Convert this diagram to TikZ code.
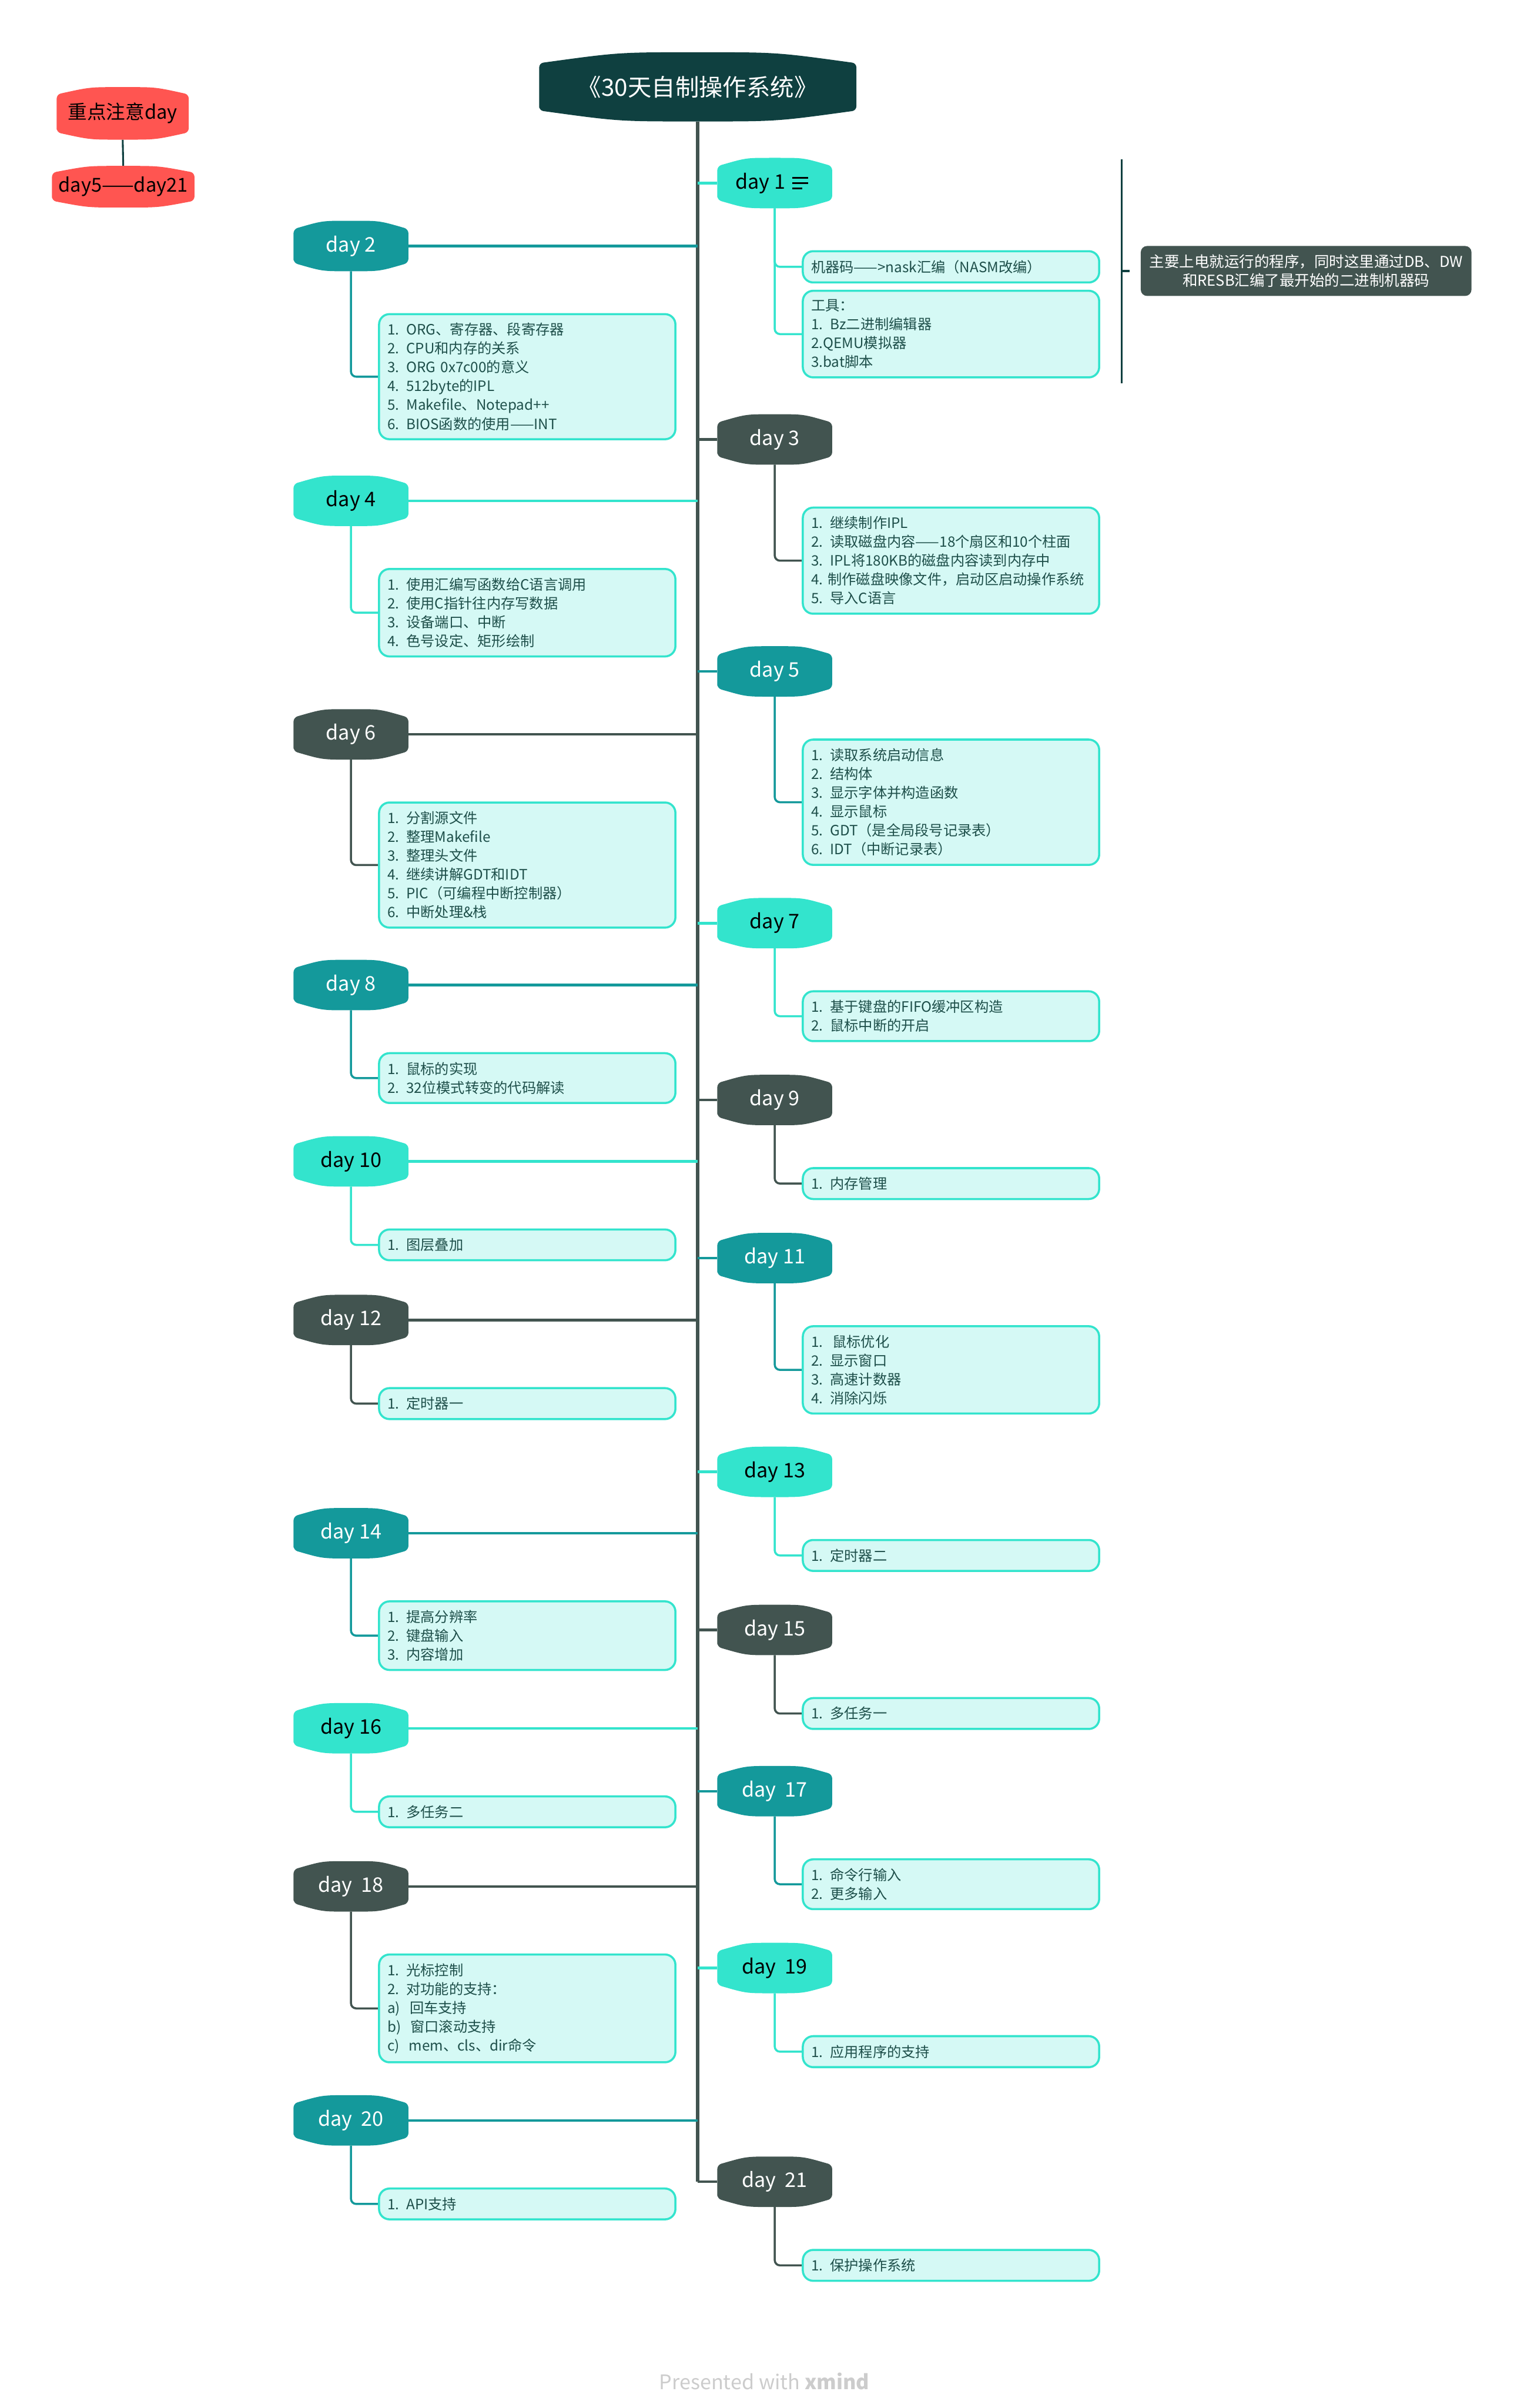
\documentclass[tikz,border=0pt]{standalone}
\usepackage{fontspec}
\setmainfont{Noto Sans CJK SC}
\newfontfamily\memofont[WordSpace=0.7]{Noto Sans CJK SC}
\usetikzlibrary{calc,backgrounds}

\definecolor{deep}{HTML}{0F4040}
\definecolor{turq}{HTML}{33E4CD}
\definecolor{mteal}{HTML}{14999B}
\definecolor{slate}{HTML}{425450}
\definecolor{memobg}{HTML}{D5F9F5}
\definecolor{memotx}{HTML}{1E4F4A}
\definecolor{hot}{HTML}{FF5551}
\definecolor{footgrey}{HTML}{CCCCCC}

% fill of an xmind-like topic: straight sides, arched top and bottom
\newcommand\bulge[3]{%
  \fill[#2,rounded corners=0.08cm]($(#1.south west)+(0,#3)$)--($(#1.north west)+(0,-#3)$)
    .. controls ($(#1.north west)!0.5!(#1.north)$) .. (#1.north)
    .. controls ($(#1.north)!0.5!(#1.north east)$) .. ($(#1.north east)+(0,-#3)$)
    --($(#1.south east)+(0,#3)$)
    .. controls ($(#1.south east)!0.5!(#1.south)$) .. (#1.south)
    .. controls ($(#1.south)!0.5!(#1.south west)$) .. cycle;}

\tikzset{
  topic/.style={minimum width=2.21cm,minimum height=0.97cm,inner sep=0pt,outer sep=0pt,
    font=\fontsize{11}{13}\selectfont},
  memo/.style={draw=turq,line width=0.04cm,fill=memobg,rounded corners=0.2cm,anchor=north west,
    text width=5.38cm,inner xsep=0.16cm,inner ysep=0.17cm,align=left,text=memotx,
    font=\memofont\fontsize{7.8}{10.3}\selectfont},
  branch/.style={line width=0.05cm},
  twig/.style={line width=0.04cm,rounded corners=0.1cm},
}

\begin{document}
\begin{tikzpicture}
  \useasboundingbox(0,0)rectangle(29.30,-46.30);
  % title and the side legend
  \node[text=white,minimum width=6.10cm,minimum height=1.33cm,inner sep=0pt,outer sep=0pt,
    font=\fontsize{13}{15}\selectfont](title)at(13.42,-1.67){《30天自制操作系统》};
  \node[minimum width=2.54cm,minimum height=1.01cm,inner sep=0pt,outer sep=0pt,
    font=\fontsize{10.5}{12}\selectfont](key)at(2.36,-2.18){重点注意day};
  \node[minimum width=2.74cm,minimum height=0.80cm,inner sep=0pt,outer sep=0pt,
    font=\fontsize{10.5}{12}\selectfont](keyd)at(2.37,-3.59){day5——day21};
  % days on the right
  \node[topic](d1)at(14.90,-3.52){day 1\kern0.55cm};
  \node[topic,text=white](d3)at(14.90,-8.45){day 3};
  \node[topic,text=white](d5)at(14.90,-12.91){day 5};
  \node[topic](d7)at(14.90,-17.75){day 7};
  \node[topic,text=white](d9)at(14.90,-21.15){day 9};
  \node[topic,text=white](d11)at(14.90,-24.19){day 11};
  \node[topic](d13)at(14.90,-28.30){day 13};
  \node[topic,text=white](d15)at(14.90,-31.34){day 15};
  \node[topic,text=white](d17)at(14.90,-34.44){day\ \ 17};
  \node[topic](d19)at(14.90,-37.84){day\ \ 19};
  \node[topic,text=white](d21)at(14.90,-41.95){day\ \ 21};
  % days on the left
  \node[topic,text=white](d2)at(6.75,-4.73){day 2};
  \node[topic](d4)at(6.75,-9.63){day 4};
  \node[topic,text=white](d6)at(6.75,-14.12){day 6};
  \node[topic,text=white](d8)at(6.75,-18.94){day 8};
  \node[topic](d10)at(6.75,-22.33){day 10};
  \node[topic,text=white](d12)at(6.75,-25.38){day 12};
  \node[topic,text=white](d14)at(6.75,-29.48){day 14};
  \node[topic](d16)at(6.75,-33.23){day 16};
  \node[topic,text=white](d18)at(6.75,-36.27){day\ \ 18};
  \node[topic,text=white](d20)at(6.75,-40.77){day\ \ 20};
  % note icon of day 1
  \draw[line width=0.03cm]($(d1.center)+(0.34,0.10)$)--++(0.30,0)
    ($(d1.center)+(0.34,0)$)--++(0.30,0)($(d1.center)+(0.34,-0.10)$)--++(0.19,0);

  % memos
  \node[memo](m1a)at($(d1)+(0.52,-1.29)$){机器码——>nask汇编（NASM改编）};
  \node[memo](m1b)at($(m1a.south west)+(0,-0.12)$){工具：\\1. Bz二进制编辑器\\2.QEMU模拟器\\3.bat脚本};
  \node[memo](m2)at($(d2)+(0.52,-1.29)$){1. ORG、寄存器、段寄存器\\2. CPU和内存的关系\\3. ORG 0x7c00的意义\\4. 512byte的IPL\\5. Makefile、Notepad++\\6. BIOS函数的使用——INT};
  \node[memo](m3)at($(d3)+(0.52,-1.29)$){1. 继续制作IPL\\2. 读取磁盘内容——18个扇区和10个柱面\\3. IPL将180KB的磁盘内容读到内存中\\4.~制作磁盘映像文件，启动区启动操作系统\\5. 导入C语言};
  \node[memo](m4)at($(d4)+(0.52,-1.29)$){1. 使用汇编写函数给C语言调用\\2. 使用C指针往内存写数据\\3. 设备端口、中断\\4. 色号设定、矩形绘制};
  \node[memo](m5)at($(d5)+(0.52,-1.29)$){1. 读取系统启动信息\\2. 结构体\\3. 显示字体并构造函数\\4. 显示鼠标\\5. GDT（是全局段号记录表）\\6. IDT（中断记录表）};
  \node[memo](m6)at($(d6)+(0.52,-1.29)$){1. 分割源文件\\2. 整理Makefile\\3. 整理头文件\\4. 继续讲解GDT和IDT\\5. PIC（可编程中断控制器）\\6. 中断处理\&栈};
  \node[memo](m7)at($(d7)+(0.52,-1.29)$){1. 基于键盘的FIFO缓冲区构造\\2. 鼠标中断的开启};
  \node[memo](m8)at($(d8)+(0.52,-1.29)$){1. 鼠标的实现\\2. 32位模式转变的代码解读};
  \node[memo](m9)at($(d9)+(0.52,-1.29)$){1. 内存管理};
  \node[memo](m10)at($(d10)+(0.52,-1.29)$){1. 图层叠加};
  \node[memo](m11)at($(d11)+(0.52,-1.29)$){1.\ \ 鼠标优化\\2. 显示窗口\\3. 高速计数器\\4. 消除闪烁};
  \node[memo](m12)at($(d12)+(0.52,-1.29)$){1. 定时器一};
  \node[memo](m13)at($(d13)+(0.52,-1.29)$){1. 定时器二};
  \node[memo](m14)at($(d14)+(0.52,-1.29)$){1. 提高分辨率\\2. 键盘输入\\3. 内容增加};
  \node[memo](m15)at($(d15)+(0.52,-1.29)$){1. 多任务一};
  \node[memo](m16)at($(d16)+(0.52,-1.29)$){1. 多任务二};
  \node[memo](m17)at($(d17)+(0.52,-1.29)$){1. 命令行输入\\2. 更多输入};
  \node[memo](m18)at($(d18)+(0.52,-1.29)$){1. 光标控制\\2. 对功能的支持：\\a)\ \ 回车支持\\b)\ \ 窗口滚动支持\\c)\ \ mem、cls、dir命令};
  \node[memo](m19)at($(d19)+(0.52,-1.29)$){1. 应用程序的支持};
  \node[memo](m20)at($(d20)+(0.52,-1.29)$){1. API支持};
  \node[memo](m21)at($(d21)+(0.52,-1.29)$){1. 保护操作系统};

  % summary of day 1
  \node[fill=slate,text=white,rounded corners=0.12cm,minimum width=6.36cm,minimum height=0.96cm,
    inner sep=0pt,outer sep=0pt,align=center,font=\fontsize{8.2}{10.4}\selectfont]
    (sum)at(25.12,-5.21){主要上电就运行的程序，同时这里通过DB、DW\\和RESB汇编了最开始的二进制机器码};
  \coordinate(brtop)at(21.57,-3.06);
  \coordinate(brbot)at(21.57,-7.37);
  \coordinate(brtip)at($(sum.west)+(-0.22,0)$);
  \draw[deep,line width=0.03cm](brtop)--(brbot);
  \draw[deep,line width=0.05cm](brtop|-sum.west)--(brtip);

  \node[text=footgrey,font=\fontsize{11}{13}\selectfont](foot)at(14.70,-45.79){Presented with \textbf{xmind}};

  \begin{scope}[on background layer]
    \draw[slate,line width=0.065cm](title.south)--(title.south|-d21.west);
    \draw[deep,line width=0.035cm](key.south)--(keyd.north);
    \foreach \n/\c in {1/turq,3/slate,5/mteal,7/turq,9/slate,11/mteal,13/turq,15/slate,17/mteal,19/turq,21/slate}
      \draw[branch,\c](title.south|-d\n.west)--(d\n.west);
    \foreach \n/\c in {2/mteal,4/turq,6/slate,8/mteal,10/turq,12/slate,14/mteal,16/turq,18/slate,20/mteal}
      \draw[branch,\c](d\n.east)--(title.south|-d\n.east);
    \draw[twig,turq](d1.south)|-(m1a.west);
    \draw[twig,turq](d1.south)|-(m1b.west);
    \foreach \n/\c in {2/mteal,3/slate,4/turq,5/mteal,6/slate,7/turq,8/mteal,9/slate,10/turq,11/mteal,12/slate,13/turq,14/mteal,15/slate,16/turq,17/mteal,18/slate,19/turq,20/mteal,21/slate}
      \draw[twig,\c](d\n.south)|-(m\n.west);
    % topic fills
    \bulge{title}{deep}{0.21}
    \bulge{key}{hot}{0.14}
    \bulge{keyd}{hot}{0.13}
    \foreach \n/\c in {1/turq,2/mteal,3/slate,4/turq,5/mteal,6/slate,7/turq,8/mteal,9/slate,10/turq,11/mteal,12/slate,13/turq,14/mteal,15/slate,16/turq,17/mteal,18/slate,19/turq,20/mteal,21/slate}
      {\bulge{d\n}{\c}{0.16}}
  \end{scope}
\end{tikzpicture}
\end{document}
